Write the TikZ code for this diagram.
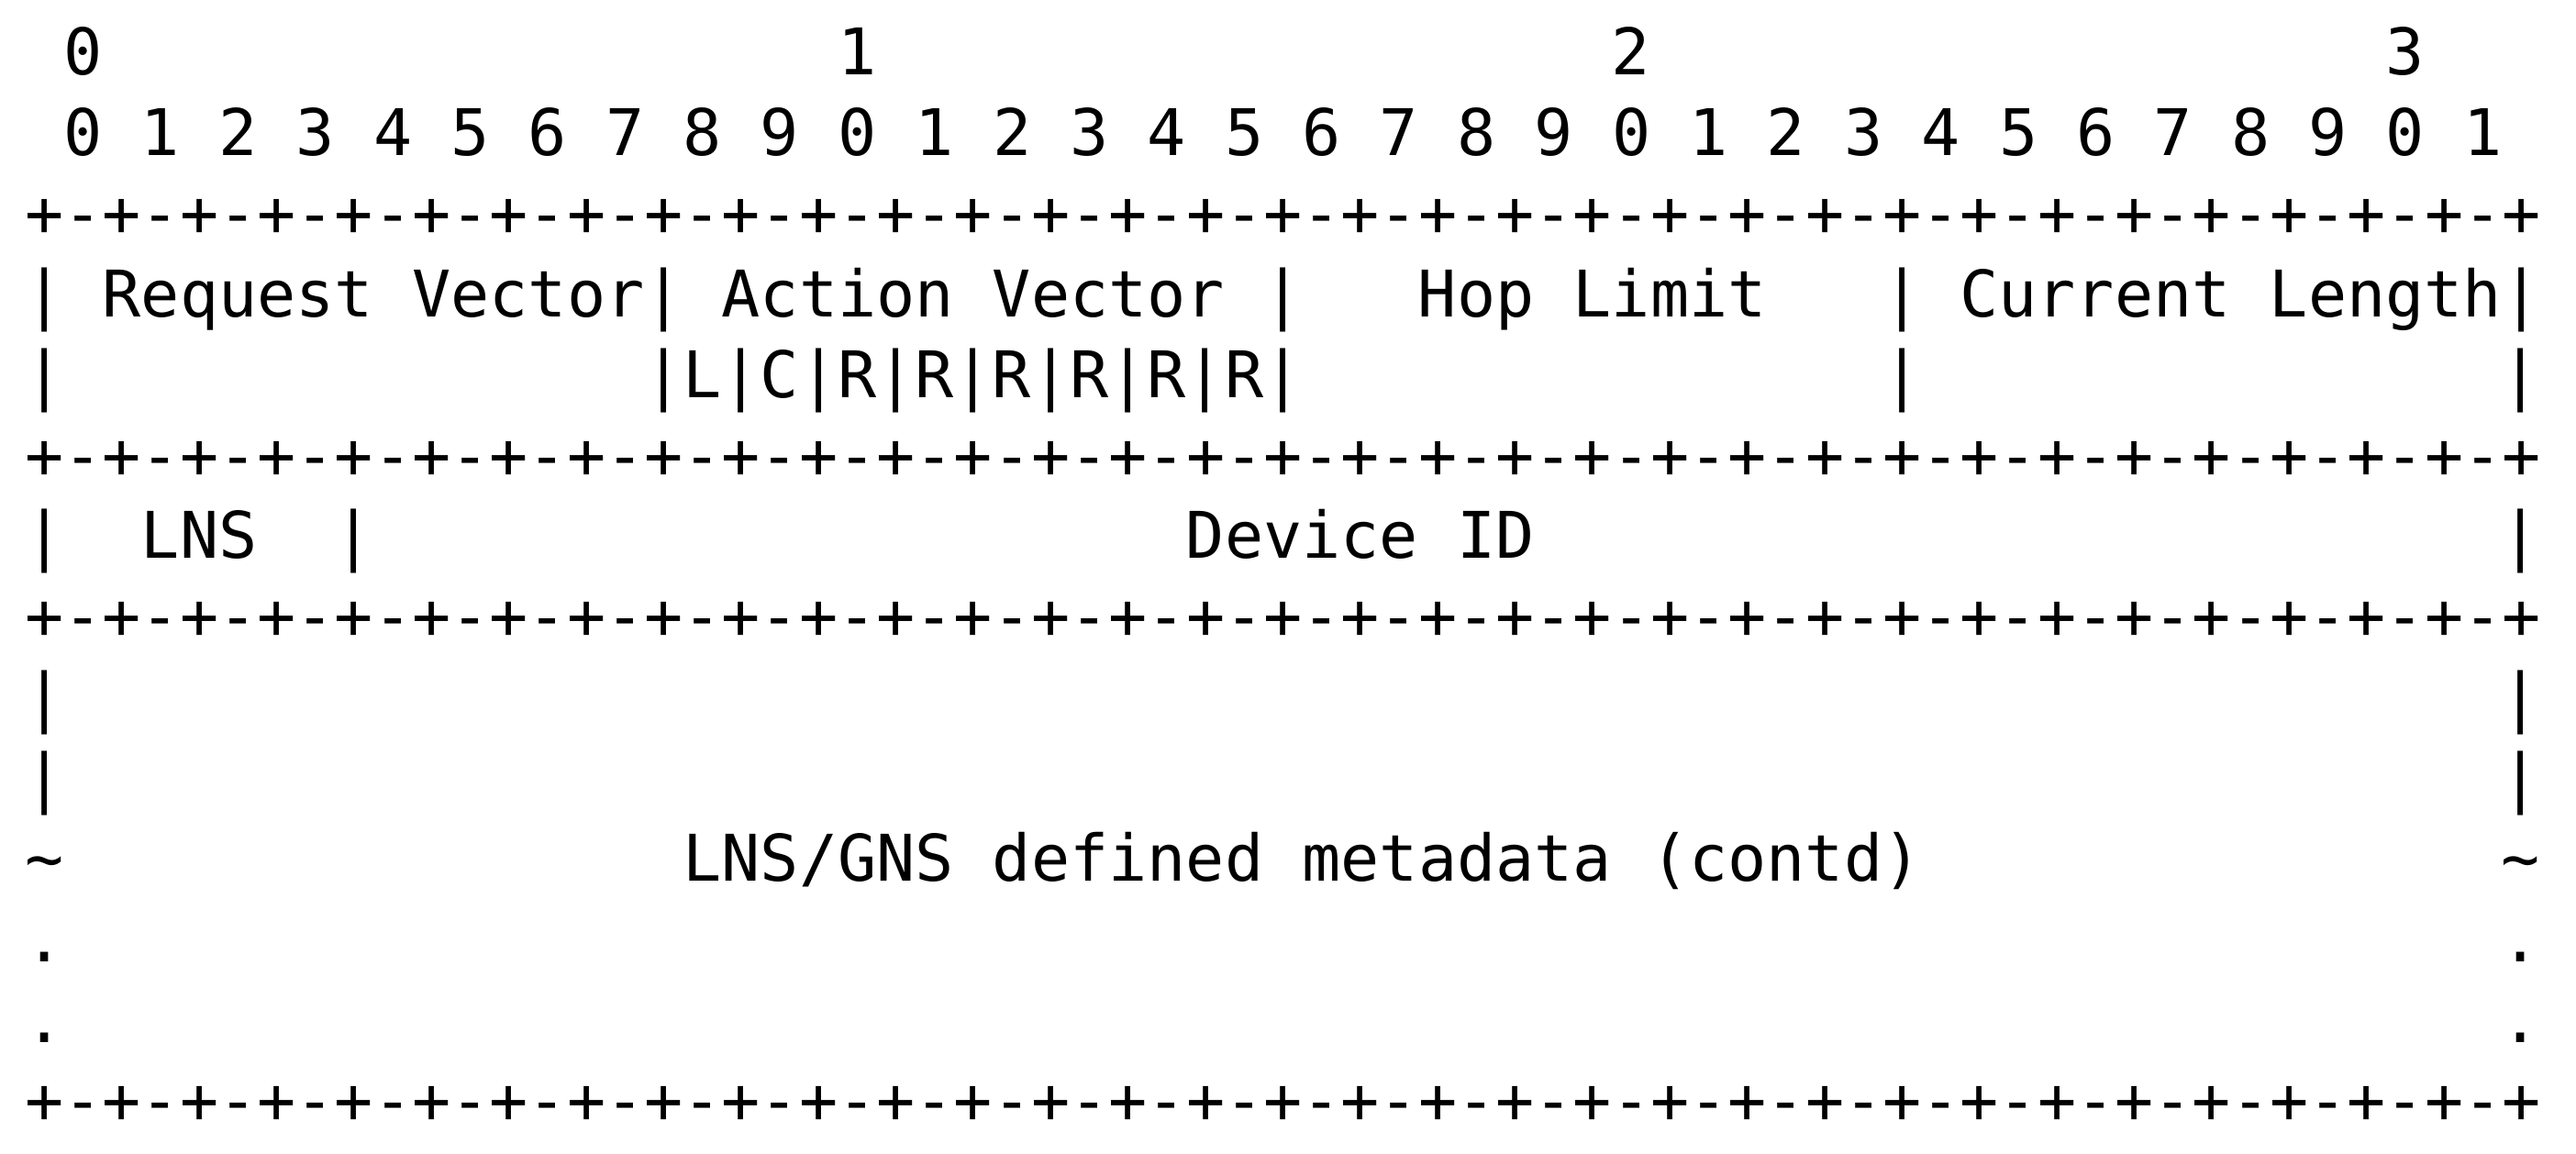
\documentclass[tikz,border=0pt]{standalone}
\usepackage{fontspec}
\newfontfamily\asciimono{DejaVu Sans Mono}
\def\grp{+-+-+-+-}
\def\dashline{\grp\grp\grp\grp\grp\grp\grp\grp+}
\begin{document}
\begin{tikzpicture}[
  txt/.style={font=\asciimono\fontsize{17.52pt}{21pt}\selectfont,
              inner sep=0pt, outer sep=0pt, anchor=base west, text=black}
]
\useasboundingbox (0,0) rectangle (702pt,-314.25pt);
\begin{scope}[shift={(6.85pt,-20.375pt)}, x=10.545pt, y=-21.975pt]
  % row 0: decade numbers
  \node[txt] (dec0) at (1,0) {0};
  \node[txt] (dec1) at (21,0) {1};
  \node[txt] (dec2) at (41,0) {2};
  \node[txt] (dec3) at (61,0) {3};
  % row 1: bit numbers
  \node[txt] (bits) at (1,1) {0 1 2 3 4 5 6 7 8 9 0 1 2 3 4 5 6 7 8 9 0 1 2 3 4 5 6 7 8 9 0 1};
  % row 2
  \node[txt] (sep1) at (0,2) {\dashline};
  % row 3
  \node[txt] (r3a) at (0,3) {|};
  \node[txt] (req) at (2,3) {Request Vector|};
  \node[txt] (act) at (18,3) {Action Vector |};
  \node[txt] (hop) at (36,3) {Hop Limit};
  \node[txt] (r3b) at (48,3) {|};
  \node[txt] (cur) at (50,3) {Current Length|};
  % row 4
  \node[txt] (r4a) at (0,4) {|};
  \node[txt] (flags) at (16,4) {|L|C|R|R|R|R|R|R|};
  \node[txt] (r4b) at (48,4) {|};
  \node[txt] (r4c) at (64,4) {|};
  % row 5
  \node[txt] (sep2) at (0,5) {\dashline};
  % row 6
  \node[txt] (r6a) at (0,6) {|};
  \node[txt] (lns) at (3,6) {LNS};
  \node[txt] (r6b) at (8,6) {|};
  \node[txt] (dev) at (30,6) {Device ID};
  \node[txt] (r6c) at (64,6) {|};
  % row 7
  \node[txt] (sep3) at (0,7) {\dashline};
  % rows 8-9
  \node[txt] (r8a) at (0,8) {|};
  \node[txt] (r8b) at (64,8) {|};
  \node[txt] (r9a) at (0,9) {|};
  \node[txt] (r9b) at (64,9) {|};
  % row 10
  \node[txt] (t10a) at (0,10) {\textasciitilde};
  \node[txt] (meta) at (17,10) {LNS/GNS defined metadata (contd)};
  \node[txt] (t10b) at (64,10) {\textasciitilde};
  % rows 11-12
  \node[txt] (d11a) at (0,11) {.};
  \node[txt] (d11b) at (64,11) {.};
  \node[txt] (d12a) at (0,12) {.};
  \node[txt] (d12b) at (64,12) {.};
  % row 13
  \node[txt] (sep4) at (0,13) {\dashline};
\end{scope}
\end{tikzpicture}
\end{document}
